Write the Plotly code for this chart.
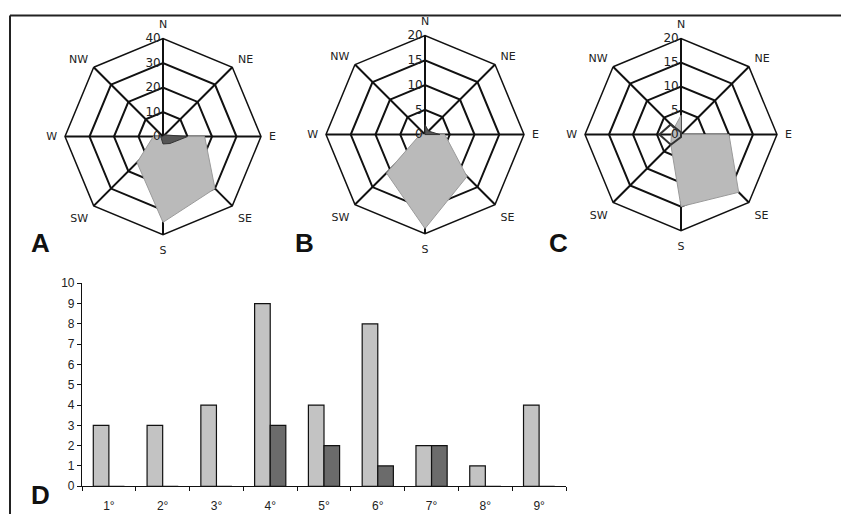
import plotly.graph_objects as go

# page body has an 8px margin: build the figure 16px smaller and shift by 8px
OFF = 8
W, H = 849 - 2 * OFF, 529 - 2 * OFF
VS = 0.97  # observed vertical scale of the rendered page

directions = ["N", "NE", "E", "SE", "S", "SW", "W", "NW"]

# Radar A (0-40)
a_light = [0, 0, 17, 30, 35, 15, 4, 0]
a_dark = [0, 1, 10, 4, 3, 1, 1, 0]
# Radar B (0-20)
b_light = [0, 0, 4, 12, 19, 11, 1, 0]
b_dark = [2, 1, 3, 0, 0, 0, 0, 0]
# Radar C (0-20)
c_light = [4, 0, 10, 17, 15, 3, 2, 2]
c_dark = [0.5, 0, 0, 0, 0.5, 3, 4.5, 3]

# Bar chart D
bar_cats = ["1°", "2°", "3°", "4°", "5°", "6°", "7°", "8°", "9°"]
bar_light = [3, 3, 4, 9, 4, 8, 2, 1, 4]
bar_dark = [0, 0, 0, 3, 2, 1, 2, 0, 0]

LIGHT = "#c3c3c3"
DARK = "#6b6b6b"
FONT = "DejaVu Sans"


def px(x):
    return (x - OFF) / W


def py(y):
    yf = (y - OFF) / VS - OFF
    return 1 - yf / H


def closed(v):
    return list(v) + [v[0]]


fig = go.Figure()

radars = [
    ("polar", a_light, a_dark, (163, 137, 98), 40, 10, True),
    ("polar2", b_light, b_dark, (425, 135, 99), 20, 5, True),
    ("polar3", c_light, c_dark, (681, 135, 96), 20, 5, False),
]

for name, lv, dv, (cx, cy, R), rmax, dt, dark_fill in radars:
    th = closed(directions)
    fig.add_trace(go.Scatterpolar(r=closed(lv), theta=th, mode="lines", fill="toself",
                                  fillcolor="#bababa", line=dict(color="#9a9a9a", width=1),
                                  subplot=name, showlegend=False))
    fig.add_trace(go.Scatterpolar(r=closed(dv), theta=th, mode="lines",
                                  fill="toself" if dark_fill else "none",
                                  fillcolor="#555555",
                                  line=dict(color="#333333", width=1 if dark_fill else 2),
                                  subplot=name, showlegend=False))
    dom = dict(x=[px(cx - R), px(cx + R)], y=[py(cy + R), py(cy - R)])
    fig.update_layout(**{name: dict(
        domain=dom,
        gridshape="linear",
        bgcolor="rgba(0,0,0,0)",
        angularaxis=dict(direction="clockwise", rotation=90, categoryorder="array",
                         categoryarray=directions, gridcolor="#111", gridwidth=1.5,
                         linecolor="#111", linewidth=1.5, showline=True,
                         ticks="outside", ticklen=5, tickcolor="rgba(0,0,0,0)",
                         tickfont=dict(family=FONT, size=11, color="#222")),
        radialaxis=dict(range=[0, rmax], dtick=dt, angle=90, tickangle=90,
                        gridcolor="#111", gridwidth=1.5, showline=False, ticks="",
                        side="counterclockwise",
                        tickfont=dict(family=FONT, size=12, color="#222")),
    )})

fig.add_trace(go.Bar(x=bar_cats, y=bar_light, marker=dict(color=LIGHT, line=dict(color="#111", width=1.2)),
                     showlegend=False, xaxis="x", yaxis="y"))
fig.add_trace(go.Bar(x=bar_cats, y=bar_dark, marker=dict(color=DARK, line=dict(color="#111", width=1.2)),
                     showlegend=False, xaxis="x", yaxis="y"))

fig.update_layout(
    width=W, height=H,
    margin=dict(l=0, r=0, t=0, b=0),
    paper_bgcolor="white", plot_bgcolor="white",
    barmode="group", bargap=0.42, bargroupgap=0,
    xaxis=dict(domain=[px(82), px(566)], anchor="y", showline=True, linecolor="#111", linewidth=1.2,
               ticks="outside", tickson="boundaries", ticklen=4, tickcolor="#111",
               ticklabelstandoff=8,
               showgrid=False, tickfont=dict(family="Liberation Sans", size=12, color="#222"),
               fixedrange=True),
    yaxis=dict(domain=[py(485.7), py(283.3)], anchor="x", range=[0, 10], dtick=1,
               showline=True, linecolor="#111", linewidth=1.2, ticks="outside", ticklen=4,
               tickcolor="#111", showgrid=False, zeroline=False,
               tickfont=dict(family="Liberation Sans", size=12, color="#222")),
    shapes=[
        dict(type="line", xref="paper", yref="paper", x0=px(10), x1=1, y0=0.999, y1=0.999,
             line=dict(color="#222", width=2)),
        dict(type="line", xref="paper", yref="paper", x0=px(10), x1=px(10), y0=0, y1=0.999,
             line=dict(color="#222", width=2)),
    ],
)

for txt, x0, y0 in [("A", 29, 243), ("B", 293, 243), ("C", 547, 243), ("D", 29, 494)]:
    fig.add_annotation(text=f"<b>{txt}</b>", x=px(x0), y=py(y0), xref="paper", yref="paper",
                       xanchor="left", yanchor="middle", showarrow=False,
                       font=dict(family="Liberation Sans", size=26, color="#111"))

fig.write_html("out.html")
